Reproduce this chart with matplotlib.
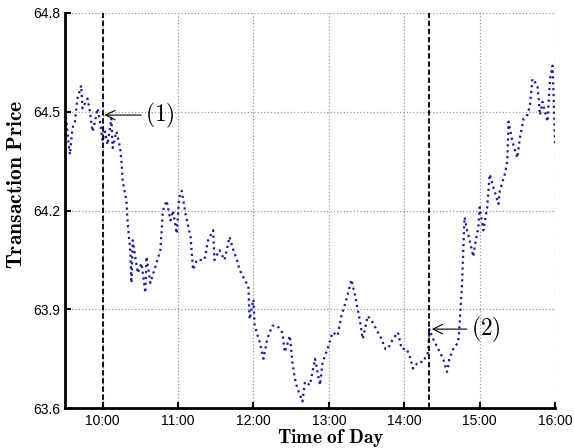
import matplotlib
matplotlib.use('Agg')
import matplotlib.pyplot as plt

plt.rcParams['mathtext.fontset'] = 'cm'
plt.rcParams['font.family'] = 'Liberation Sans'

# minutes after midnight, price
minutes = [570, 572, 574, 576, 578, 580, 583, 584, 588, 590, 592, 594, 596, 598,
           600, 602, 604, 607, 608, 611, 614, 615, 616, 619, 620, 622, 623, 624,
           626, 628, 631, 634, 635, 638, 642, 646, 648, 651, 654, 656, 659, 661,
           663, 666, 670, 672, 675, 681, 684, 688, 689, 693, 697, 701, 704, 707,
           709, 713, 716, 717, 720, 721, 725, 728, 731, 735, 739, 743, 745, 749,
           751, 753, 755, 757, 759, 761, 765, 769, 773, 775, 779, 783, 787, 790,
           794, 798, 801, 803, 805, 807, 811, 815, 819, 822, 825, 827, 831, 835,
           838, 842, 845, 847, 851, 855, 859, 860, 863, 867, 871, 874, 876, 879,
           883, 884, 886, 887, 888, 890, 892, 895, 896, 899, 900, 903, 906, 908,
           911, 915, 916, 920, 922, 923, 926, 930, 932, 935, 938, 940, 942, 946,
           948, 950, 954, 956, 958, 959, 960]
prices = [64.52, 64.44, 64.37, 64.45, 64.47, 64.54, 64.58, 64.51, 64.54, 64.50,
          64.44, 64.47, 64.51, 64.47, 64.41, 64.44, 64.40, 64.48, 64.39, 64.44,
          64.39, 64.35, 64.29, 64.23, 64.16, 64.08, 63.98, 64.11, 64.06, 64.01,
          64.04, 63.95, 64.06, 63.98, 64.03, 64.08, 64.20, 64.23, 64.17, 64.20,
          64.13, 64.24, 64.26, 64.19, 64.12, 64.02, 64.05, 64.05, 64.11, 64.14,
          64.05, 64.08, 64.05, 64.12, 64.08, 64.05, 64.02, 63.99, 63.97, 63.87,
          63.93, 63.85, 63.80, 63.75, 63.81, 63.85, 63.85, 63.83, 63.77, 63.82,
          63.74, 63.69, 63.66, 63.64, 63.62, 63.68, 63.67, 63.75, 63.67, 63.74,
          63.78, 63.83, 63.82, 63.88, 63.93, 63.99, 63.94, 63.90, 63.86, 63.81,
          63.88, 63.86, 63.83, 63.81, 63.78, 63.78, 63.81, 63.83, 63.78, 63.78,
          63.75, 63.72, 63.74, 63.74, 63.77, 63.84, 63.81, 63.78, 63.75, 63.71,
          63.75, 63.78, 63.80, 63.85, 63.98, 64.08, 64.18, 64.14, 64.11, 64.06,
          64.09, 64.15, 64.21, 64.14, 64.21, 64.31, 64.27, 64.22, 64.26, 64.31,
          64.35, 64.47, 64.41, 64.36, 64.42, 64.48, 64.49, 64.52, 64.60, 64.58,
          64.49, 64.53, 64.47, 64.60, 64.64, 64.53, 64.40]

xticks = [600, 660, 720, 780, 840, 900, 960]
xticklabels = ['10:00', '11:00', '12:00', '13:00', '14:00', '15:00', '16:00']
yticks = [63.6, 63.9, 64.2, 64.5, 64.8]
events = [600, 860]
event_labels = ['$(1)$', '$(2)$']
event_points = [(601.5, 64.49), (862, 63.84)]
label_x = [634, 893]

fig = plt.figure(figsize=(5.74, 4.48), dpi=100)
ax = fig.add_axes([0.113, 0.089, 0.854, 0.882])

ax.plot(minutes, prices, linestyle=':', color='#1a1a9c', lw=1.6)
for m in events:
    ax.axvline(m, color='black', linestyle='--', lw=1.3, dashes=(3, 1.5))

for lab, (px, py), tx in zip(event_labels, event_points, label_x):
    ax.annotate(lab, xy=(px, py), xytext=(tx, py), fontsize=17,
                va='center', ha='left',
                arrowprops=dict(arrowstyle='->', color='black', lw=0.8,
                                shrinkA=1, shrinkB=0))

ax.set_xlim(570, 960)
ax.set_ylim(63.6, 64.8)
ax.set_xticks(xticks)
ax.set_xticklabels(xticklabels)
ax.set_yticks(yticks)
ax.tick_params(direction='in', labelsize=10, width=1.5, length=4)
ax.tick_params(axis='x', pad=4)
ax.grid(True, linestyle=':', color='#999999', lw=0.9)
ax.spines['top'].set_visible(False)
ax.spines['right'].set_visible(False)
ax.spines['left'].set_linewidth(2)
ax.spines['bottom'].set_linewidth(2)

ax.set_xlabel(r'$\mathbf{Time\ of\ Day}$', fontsize=14)
ax.xaxis.set_label_coords(0.543, -0.049)
ax.set_ylabel(r'$\mathbf{Transaction\ Price}$', fontsize=15.5)
ax.yaxis.set_label_coords(-0.078, 0.567)

fig.savefig('out.png', dpi=100)
